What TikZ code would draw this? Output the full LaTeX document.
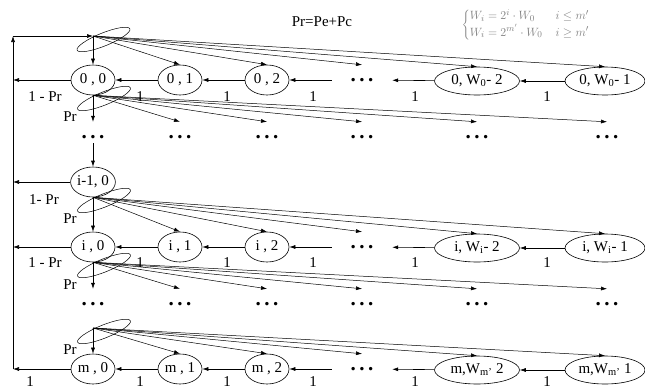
\documentclass[tikz,border=0pt]{standalone}
\usepackage{fontspec}
\setmainfont{Liberation Serif}
\usetikzlibrary{shapes.geometric,arrows.meta}
\begin{document}
\begin{tikzpicture}[x=1pt,y=1pt,
  st/.style={ellipse,draw,line width=0.6pt,inner sep=0pt,minimum width=44pt,minimum height=30pt,font=\fontsize{15}{15}\selectfont},
  wst/.style={st,minimum width=85pt,minimum height=28pt},
  vst/.style={st,minimum width=80pt,minimum height=28pt},
  dts/.style={inner sep=0pt,minimum width=60pt,minimum height=30pt,font=\fontsize{21}{21}\selectfont\bfseries},
  ar/.style={-{Latex[length=6pt,width=4pt]},line width=0.6pt},
  far/.style={-{Latex[length=6pt,width=4pt]},line width=0.5pt},
  lbl/.style={font=\fontsize{15}{15}\selectfont,inner sep=0pt},
  fanell/.style={draw,ellipse,rotate=22,minimum width=57pt,minimum height=13pt,inner sep=0pt,line width=0.5pt}]
\useasboundingbox (0,0) rectangle (645,-391);
% row 0
\node[st]  (n00) at (93,-80)  {0 , 0};
\node[st]  (n01) at (180,-80) {0 , 1};
\node[st]  (n02) at (267,-80) {0 , 2};
\node[dts] (n03) at (362,-80) {.\,.\,.};
\node[wst] (n04) at (477,-81) {0, W\textsubscript{0}- 2};
\node[vst] (n05) at (605,-81) {0, W\textsubscript{0}- 1};
% dots row 1
\node[dts] (d10) at (93,-137)  {.\,.\,.};
\node[dts] (d11) at (180,-137) {.\,.\,.};
\node[dts] (d12) at (267,-137) {.\,.\,.};
\node[dts] (d13) at (362,-137) {.\,.\,.};
\node[dts] (d14) at (477,-137) {.\,.\,.};
\node[dts] (d15) at (607,-137) {.\,.\,.};
% row i-1
\node[st]  (n10) at (93,-182) {i-1, 0};
% row i
\node[st]  (ni0) at (93,-247)  {i , 0};
\node[st]  (ni1) at (180,-247) {i , 1};
\node[st]  (ni2) at (267,-247) {i , 2};
\node[dts] (ni3) at (362,-247) {.\,.\,.};
\node[wst] (ni4) at (477,-248) {i, W\textsubscript{i}- 2};
\node[vst] (ni5) at (605,-248) {i, W\textsubscript{i}- 1};
% dots row 2
\node[dts] (d20) at (93,-304)  {.\,.\,.};
\node[dts] (d21) at (180,-304) {.\,.\,.};
\node[dts] (d22) at (267,-304) {.\,.\,.};
\node[dts] (d23) at (362,-304) {.\,.\,.};
\node[dts] (d24) at (477,-304) {.\,.\,.};
\node[dts] (d25) at (607,-304) {.\,.\,.};
% row m
\node[st]  (nm0) at (93,-369)  {m , 0};
\node[st]  (nm1) at (180,-369) {m , 1};
\node[st]  (nm2) at (267,-369) {m , 2};
\node[dts] (nm3) at (362,-369) {.\,.\,.};
\node[wst] (nm4) at (477,-370) {m,W\textsubscript{m'} 2};
\node[vst] (nm5) at (605,-370) {m,W\textsubscript{m'} 1};
% coordinates
\coordinate (fA) at (93,-36);
\coordinate (fE) at (93,-328);
\coordinate (Ltop) at (13,-36);
\coordinate (L0) at (13,-80);
\coordinate (L1) at (13,-182);
\coordinate (L2) at (13,-247);
\coordinate (L3) at (13,-369);
% fan ellipses
\node[fanell] (e1) at (103.5,-39.5) {};
\node[fanell] (e2) at (104,-98.5) {};
\node[fanell] (e3) at (104,-200.5) {};
\node[fanell] (e4) at (104,-265.5) {};
\node[fanell] (e5) at (104,-331.5) {};
% left line
\draw[ar] (L3) -- (Ltop);
\draw[ar] (Ltop) -- (fA);
\draw[ar] (n00) -- (L0);
\draw[ar] (n10) -- (L1);
\draw[ar] (ni0) -- (L2);
\draw[ar] (nm0) -- (L3);
% horizontal arrows
\foreach \r in {0,i,m}{
  \draw[ar] (n\r1) -- (n\r0);
  \draw[ar] (n\r2) -- (n\r1);
  \draw[ar] (n\r3) -- (n\r2);
  \draw[ar] (n\r4) -- (n\r3);
  \draw[ar] (n\r5) -- (n\r4);
}
% fans
\foreach \t in {n00,n01,n02,n03,n04,n05}{\draw[far] (fA) -- (\t.north);}
\foreach \t in {d10,d11,d12,d13,d14,d15}{\draw[far] (n00.south) -- (\t.north);}
\foreach \t in {ni0,ni1,ni2,ni3,ni4,ni5}{\draw[far] (n10.south) -- (\t.north);}
\foreach \t in {d20,d21,d22,d23,d24,d25}{\draw[far] (ni0.south) -- (\t.north);}
\foreach \t in {nm0,nm1,nm2,nm3,nm4,nm5}{\draw[far] (fE) -- (\t.north);}
\draw[ar] ([yshift=-6pt]d10.center) -- (n10.north);
% labels
\node[lbl] (t1) at (45,-97) {1 - Pr};
\node[lbl] (t2) at (44,-200) {1- Pr};
\node[lbl] (t3) at (45,-263) {1 - Pr};
\node[lbl] (t4) at (30,-382) {1};
\node[lbl] (p1) at (70,-117) {Pr};
\node[lbl] (p2) at (70,-219) {Pr};
\node[lbl] (p3) at (70,-285) {Pr};
\node[lbl] (p4) at (70,-350) {Pr};
\foreach \y/\k in {97/a,263/b,382/c}{
  \node[lbl] (o1\k) at (140,-\y) {1};
  \node[lbl] (o2\k) at (227,-\y) {1};
  \node[lbl] (o3\k) at (313,-\y) {1};
  \node[lbl] (o4\k) at (415,-\y) {1};
  \node[lbl] (o5\k) at (547,-\y) {1};
}
\node[lbl] (form) at (322,-22) {Pr=Pe+Pc};
\node[inner sep=0pt,text=black!50,font=\fontsize{13}{15}\selectfont] (eq) at (526,-25)
  {$\left\{\begin{array}{@{}l@{\quad}l@{}} W_i = 2^i\cdot W_0 & i\le m' \\ W_i = 2^{m'}\cdot W_0 & i\ge m'\end{array}\right.$};
\end{tikzpicture}
\end{document}
